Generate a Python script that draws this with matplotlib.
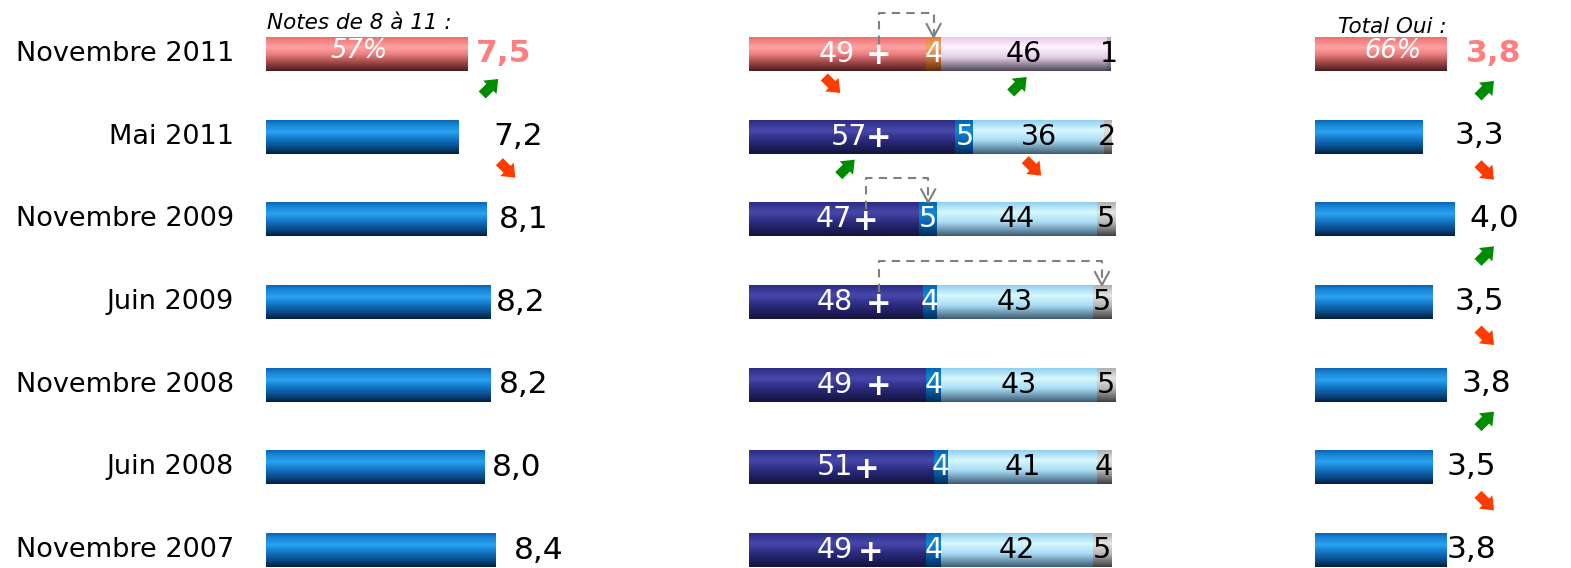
import numpy as np
import matplotlib
matplotlib.use('Agg')
import matplotlib.pyplot as plt
from matplotlib.colors import LinearSegmentedColormap

periodes = ['Novembre 2011', 'Mai 2011', 'Novembre 2009', 'Juin 2009',
            'Novembre 2008', 'Juin 2008', 'Novembre 2007']

# panneau gauche : note moyenne + % notes de 8 a 11
notes_moy = [7.5, 7.2, 8.1, 8.2, 8.2, 8.0, 8.4]
notes_8_11 = [57, 54.5, 62.5, 63.5, 63.5, 62, 65]
tend_notes = ['up', 'down', None, None, None, None, None]

# panneau central : repartition
oui = [49, 57, 47, 48, 49, 51, 49]
mitige = [4, 5, 5, 4, 4, 4, 4]
non = [46, 36, 44, 43, 43, 41, 42]
nsp = [1, 2, 5, 5, 5, 4, 5]
tend_oui = ['down', 'up', None, None, None, None, None]
tend_non = ['up', 'down', None, None, None, None, None]

# panneau droit : total oui + moyenne
total_oui = [66, 54, 70, 59, 66, 59, 66]
moy_oui = [3.8, 3.3, 4.0, 3.5, 3.8, 3.5, 3.8]
tend_tot = ['up', 'down', 'up', 'down', 'up', 'down', None]

# liens pointilles (ligne, segment vise)
liens = [(0, 1), (2, 1), (3, 3)]

# ---- mise en page (pixels) ----
W, H = 1571, 568
ROW0, STEP = 54, 82.67
BAR_H = 34 / STEP
SL, SM, SR = 3.53, 3.62, 2.0
lbl_dx_left = [9, 35, 12, 6, 9, 7, 18]
lbl_dx_right = [19, 32, 14, 22, 15, 14, 0]
oui_right_px = [855, 867, 852, 853, 853, 853, 853]
plus_px = [879, 879, 866, 879, 879, 867, 871]

GREEN = '#008c00'
RED = '#ff3c00'
PINK = '#ff7f7f'

blue = [(0, '#0a66b6'), (0.15, '#1a88d8'), (0.35, '#2aa2f2'), (0.55, '#1478c8'),
        (0.8, '#0a4a88'), (1, '#03203f')]
pink = [(0, '#ee7070'), (0.3, '#ffa2a2'), (0.5, '#ee8080'), (0.75, '#a04848'), (1, '#4a1e1e')]
navy = [(0, '#2c2c84'), (0.3, '#4848ac'), (0.6, '#2a2a7e'), (1, '#14143c')]
mblue = [(0, '#0064b4'), (0.3, '#1088d8'), (0.6, '#0a64b0'), (1, '#002e5c')]
lblue = [(0, '#90d0f0'), (0.3, '#d8f8ff'), (0.6, '#a8dcf4'), (1, '#3e5c74')]
grey = [(0, '#b0b0b0'), (0.3, '#e4e4e4'), (0.6, '#b8b8b8'), (1, '#404040')]
orange = [(0, '#e08040'), (0.3, '#f4a468'), (0.6, '#d07838'), (1, '#5c2c10')]
lav = [(0, '#e8c8f0'), (0.3, '#fff4ff'), (0.6, '#e4cce8'), (1, '#4e4656')]


def grad_bar(ax, rect, stops):
    cmap = LinearSegmentedColormap.from_list('g', stops)
    x0, y0 = rect.get_x(), rect.get_y()
    w, h = rect.get_width(), rect.get_height()
    im = ax.imshow(np.linspace(0, 1, 100).reshape(-1, 1), cmap=cmap, aspect='auto',
                   extent=(x0, x0 + w, y0 + h, y0), origin='upper',
                   interpolation='bilinear', zorder=2)
    im.set_clip_path(rect)


def fleche(ax, cx, cy, sens, sx):
    d = 8
    if sens == 'up':
        tail = (cx - d / sx, cy + d / STEP)
        tip = (cx + d / sx, cy - d / STEP)
        c = GREEN
    else:
        tail = (cx - d / sx, cy - d / STEP)
        tip = (cx + d / sx, cy + d / STEP)
        c = RED
    ax.annotate('', xy=tip, xytext=tail,
                arrowprops=dict(arrowstyle='simple,head_length=0.5,head_width=0.8,tail_width=0.42',
                                mutation_scale=17, color=c, shrinkA=0, shrinkB=0, lw=0))


fig = plt.figure(figsize=(W / 100, H / 100), dpi=100)
axL = fig.add_axes([0, 0, 740 / W, 1])
axM = fig.add_axes([749 / W, 0, 362 / W, 1])
axR = fig.add_axes([1315 / W, 0, 256 / W, 1])
ylim = ((H - ROW0) / STEP, -ROW0 / STEP)
rows = np.arange(len(periodes))

# ---- gauche ----
bars = axL.barh(rows, notes_8_11, height=BAR_H, color='#1478c8', zorder=1)
for i, b in enumerate(bars):
    grad_bar(axL, b, pink if i == 0 else blue)
    axL.text((234 - 266) / SL, i, periodes[i], ha='right', va='center', fontsize=19.5)
    x_lbl = notes_8_11[i] + lbl_dx_left[i] / SL
    txt = ('%.1f' % notes_moy[i]).replace('.', ',')
    axL.text(x_lbl, i, txt, ha='left', va='center', fontsize=22.5,
             color=PINK if i == 0 else 'black', fontweight='bold' if i == 0 else 'normal')
    if tend_notes[i]:
        fleche(axL, x_lbl + 14 / SL, i + 33 / STEP, tend_notes[i], SL)
axL.text(notes_8_11[0] / 2 - 2, -3 / STEP, '%d%%' % notes_8_11[0], ha='center', va='center',
         fontsize=18.5, style='italic', color='white', zorder=3)
axL.text(1 / SL, -31 / STEP, 'Notes de 8 à 11 :', ha='left', va='center', fontsize=15.5,
         style='italic')
axL.set_xlim(-266 / SL, (740 - 266) / SL)

# ---- centre ----
segs = [oui, mitige, non, nsp]
gauche = np.zeros(len(rows))
styles = [(navy, pink), (mblue, orange), (lblue, lav), (grey, grey)]
tcol = ['white', 'white', 'black', 'black']
for k, vals in enumerate(segs):
    bars = axM.barh(rows, vals, left=gauche, height=BAR_H, color='#808080', zorder=1)
    for i, b in enumerate(bars):
        grad_bar(axM, b, styles[k][1] if i == 0 else styles[k][0])
        cx = gauche[i] + vals[i] / 2
        if k == 0:
            axM.text((oui_right_px[i] - 749) / SM, i, str(vals[i]), ha='right', va='center',
                     fontsize=20.5, color='white', zorder=4)
            axM.text((plus_px[i] - 749) / SM, i + 2 / STEP, '+', ha='center', va='center',
                     fontsize=22, fontweight='bold', color='white', zorder=4)
        elif k == 3:
            axM.text(min(cx, 99.5), i, str(vals[i]), ha='center', va='center',
                     fontsize=20.5, color=tcol[k], zorder=4)
        else:
            axM.text(cx, i, str(vals[i]), ha='center', va='center',
                     fontsize=20.5, color=tcol[k], zorder=4)
    gauche = gauche + np.array(vals)

for i in rows:
    if tend_oui[i]:
        fleche(axM, oui[i] / 2 - 1.5, i + 31 / STEP, tend_oui[i], SM)
    if tend_non[i]:
        d0 = oui[i] + mitige[i]
        fleche(axM, d0 + non[i] / 2 - 1.5, i + 31 / STEP, tend_non[i], SM)

for r, s in liens:
    x0 = (plus_px[r] - 749) / SM
    x1 = sum(v[r] for v in segs[:s]) + segs[s][r] / 2
    ytop = r - 0.5
    ybar = r - BAR_H / 2
    axM.plot([x0, x0, x1, x1], [r - 0.12, ytop, ytop, ybar], ls=(0, (4, 3)),
             color='#808080', lw=1.5, zorder=5)
    axM.plot([x1 - 7 / SM, x1, x1 + 7 / SM], [ybar - 13 / STEP, ybar, ybar - 13 / STEP],
             color='#808080', lw=1.5, zorder=5)
axM.set_xlim(0, 100)

# ---- droite ----
bars = axR.barh(rows, total_oui, height=BAR_H, color='#1478c8', zorder=1)
for i, b in enumerate(bars):
    grad_bar(axR, b, pink if i == 0 else blue)
    txt = ('%.1f' % moy_oui[i]).replace('.', ',')
    axR.text(total_oui[i] + lbl_dx_right[i] / SR, i - 1 / STEP, txt, ha='left', va='center',
             fontsize=22.5, color=PINK if i == 0 else 'black',
             fontweight='bold' if i == 0 else 'normal')
    if tend_tot[i]:
        fleche(axR, (1486 - 1315) / SR, i + 35 / STEP, tend_tot[i], SR)
axR.text(total_oui[0] / 2 + 6, -3 / STEP, '%d%%' % total_oui[0], ha='center', va='center',
         fontsize=18.5, style='italic', color='white', zorder=3)
axR.text((1338 - 1315) / SR, -27 / STEP, 'Total Oui :', ha='left', va='center', fontsize=15.5,
         style='italic')
axR.set_xlim(0, 256 / SR)

for ax in (axL, axM, axR):
    ax.set_ylim(*ylim)
    ax.axis('off')
    ax.patch.set_alpha(0)

fig.savefig('out.png', dpi=100)
